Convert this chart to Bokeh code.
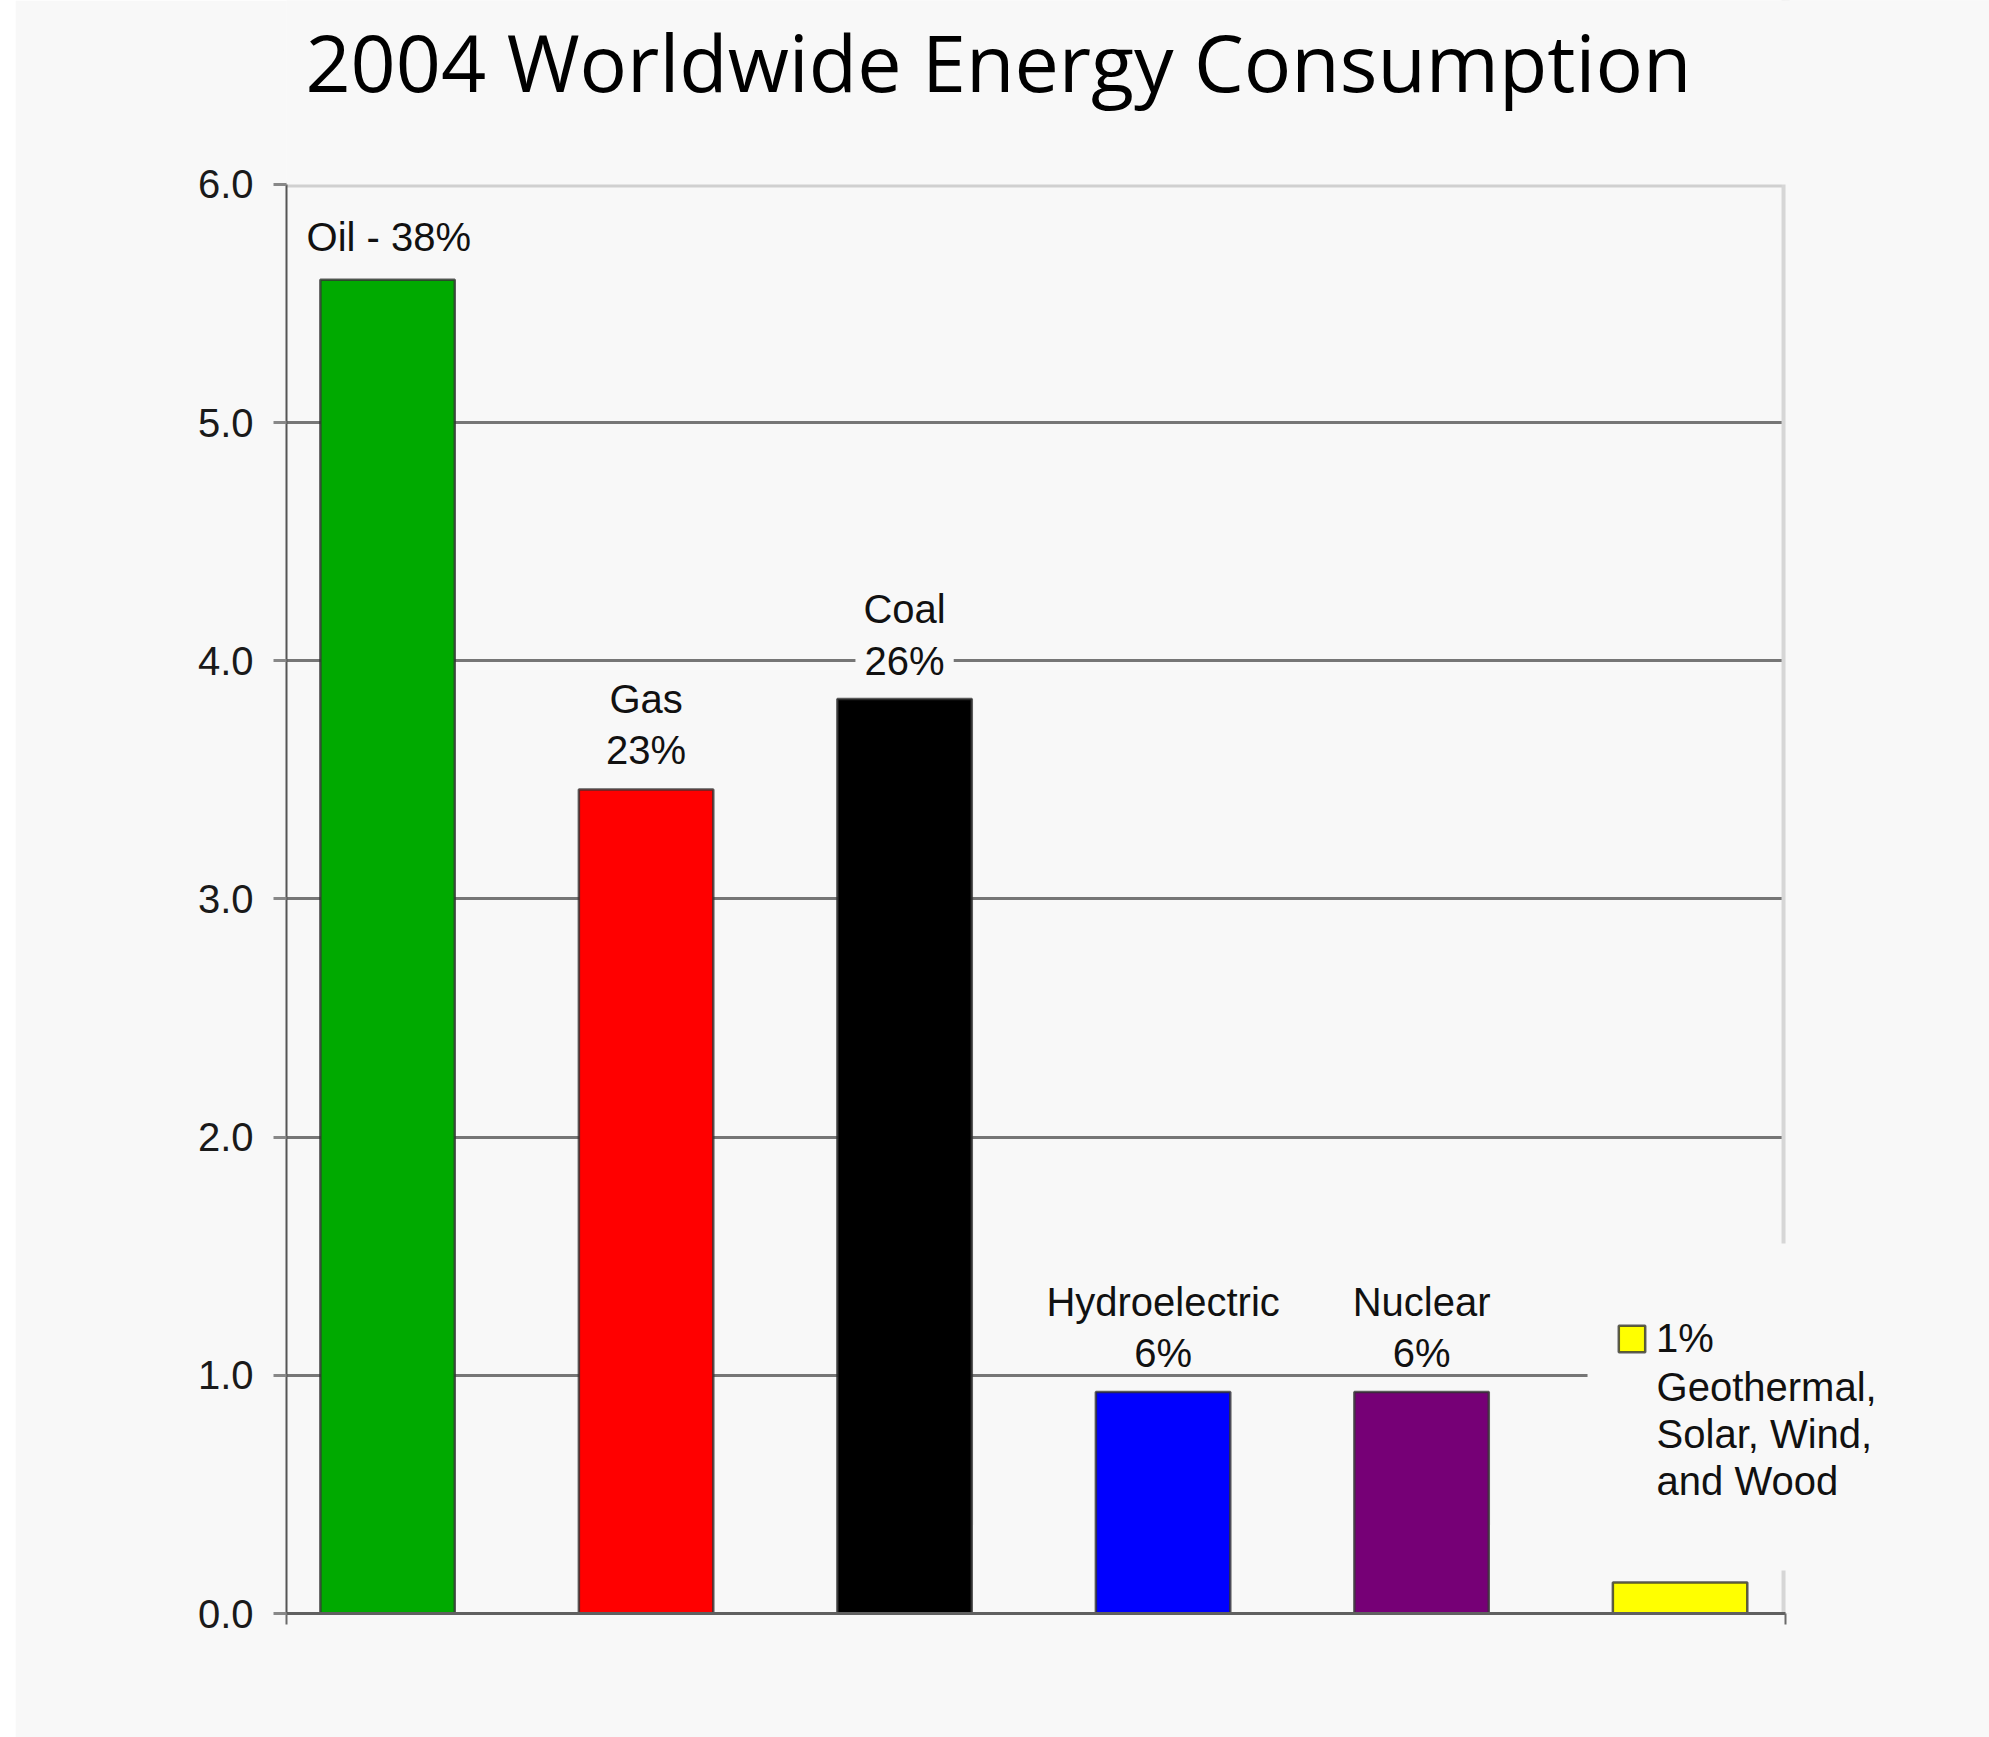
from bokeh.plotting import figure
from bokeh.models import (FixedTicker, NumeralTickFormatter, Span, BoxAnnotation,
                          Legend, LegendItem, ColumnDataSource, Spacer, Range1d, Label)
from bokeh.layouts import row
from bokeh.core.properties import value
from bokeh.embed import file_html
from bokeh.resources import INLINE

# ---- data ----
title_text = "2004 Worldwide Energy Consumption"
categories = ["Oil", "Gas", "Coal", "Hydroelectric", "Nuclear",
              "Geothermal, Solar, Wind, and Wood"]
shares = [38, 23, 26, 6, 6, 1]
values = [5.6, 3.46, 3.84, 0.93, 0.93, 0.13]
colors = ["#00aa00", "#ff0000", "#000000", "#0000ff", "#760076", "#ffff00"]
y_ticks = [0, 1, 2, 3, 4, 5, 6]
renew_lines = ["Geothermal,", "Solar, Wind,", "and Wood"]

positions = list(range(len(categories)))
BG = "#f8f8f8"
FONT = "Liberation Sans"

# plot-area extent (axes) and the wider frame that also holds title / side note
x_start, x_end = -0.391, 5.408
y_top = y_ticks[-1]
frame_x_end = 6.197
frame_y_end = 6.7725

p = figure(width=1974, height=1737, output_backend="svg", toolbar_location=None,
           x_range=Range1d(x_start, frame_x_end), y_range=Range1d(0, frame_y_end),
           min_border_left=271, min_border_right=0, min_border_top=0,
           min_border_bottom=124, background_fill_color=BG, border_fill_color=BG)
p.outline_line_color = None

src = ColumnDataSource(dict(x=positions, top=values, color=colors, cat=categories))
bars = p.vbar(x="x", top="top", width=0.52, source=src, fill_color="color",
              line_color="#333333", line_alpha=0.8, line_width=2.5)

# grid
p.xgrid.visible = False
p.ygrid.ticker = FixedTicker(ticks=y_ticks[1:-1])
p.ygrid.grid_line_color = "#767676"
p.ygrid.grid_line_width = 3

# light border at top and right of the plot area
top_line = Span(location=y_top, dimension="width", line_color="#d0d0d0",
                line_width=6, level="underlay")
right_line = Span(location=x_end, dimension="height", line_color="#d6d6d6",
                  line_width=8, level="underlay")
p.add_layout(top_line)
p.add_layout(right_line)

# background masks (under glyphs): outside the plot area, and behind the side note
p.add_layout(BoxAnnotation(left=x_end, fill_color=BG, fill_alpha=1.0,
                           line_color=None, level="underlay"))
p.add_layout(BoxAnnotation(bottom=y_top, fill_color=BG, fill_alpha=1.0,
                           line_color=None, level="underlay"))
p.add_layout(BoxAnnotation(left=4.642, right=x_end + 0.2, bottom=0.181, top=1.553,
                           fill_color=BG, fill_alpha=1.0, line_color=None,
                           level="underlay"))

# y axis
ya = p.yaxis[0]
ya.bounds = (0, y_top)
ya.ticker = FixedTicker(ticks=y_ticks)
ya.formatter = NumeralTickFormatter(format="0.0")
ya.axis_line_color = "#555555"
ya.axis_line_width = 2
ya.major_tick_line_color = "#888888"
ya.major_tick_line_width = 3
ya.major_tick_out = 13
ya.major_tick_in = 0
ya.minor_tick_line_color = None
ya.major_label_text_font = FONT
ya.major_label_text_font_size = "40px"
ya.major_label_text_color = "#1a1a1a"
ya.major_label_standoff = 20

# x axis
xa = p.xaxis[0]
xa.bounds = (x_start, x_end)
xa.ticker = FixedTicker(ticks=[x_start, x_end])
xa.axis_line_color = "#606060"
xa.axis_line_width = 3
xa.major_tick_line_color = "#6a6a6a"
xa.major_tick_line_width = 2
xa.major_tick_out = 11
xa.major_tick_in = 0
xa.minor_tick_line_color = None
xa.major_label_text_font_size = "0px"
xa.major_label_text_color = None

# title
p.add_layout(Label(x=2.363, y=6.516, text=title_text, text_align="center",
                   text_baseline="alphabetic", text_font="Open Sans",
                   text_font_size="79px", text_color="#000000"))

# labels above bars
oil_src = ColumnDataSource(dict(x=[positions[0]], y=[values[0]],
                                text=[f"{categories[0]} - {shares[0]}%"]))
p.text(x="x", y="y", text="text", source=oil_src, text_align="left",
       text_baseline="bottom", x_offset=-81, y_offset=-21,
       text_font=value(FONT), text_font_size="40px", text_color="#111111")

mid = [1, 3, 4]
mid_src = ColumnDataSource(dict(x=[positions[i] for i in mid], y=[values[i] for i in mid],
                                text=[f"{categories[i]}\n{shares[i]}%" for i in mid]))
p.text(x="x", y="y", text="text", source=mid_src, text_align="center",
       text_baseline="bottom", y_offset=-17, text_line_height=1.17,
       text_font=value(FONT), text_font_size="40px", text_color="#111111")

ci = categories.index("Coal")
coal_src = ColumnDataSource(dict(x=[positions[ci]], y=[values[ci]],
                                 text=[f"{categories[ci]}\n{shares[ci]}%"]))
p.text(x="x", y="y", text="text", source=coal_src, text_align="center",
       text_baseline="bottom", y_offset=-8, text_line_height=1.17,
       text_font=value(FONT), text_font_size="40px", text_color="#111111",
       background_fill_color=BG, padding=8)

ri = len(categories) - 1
p.add_layout(Label(x=positions[ri], y=values[ri], text="\n".join(renew_lines),
                   x_offset=-23.5, y_offset=79.5, text_align="left",
                   text_baseline="bottom", text_line_height=1.065,
                   text_font=FONT, text_font_size="40px", text_color="#111111"))

legend = Legend(items=[LegendItem(label=f"{shares[ri]}%", renderers=[bars], index=ri)],
                location=(1329, 252), glyph_width=33, glyph_height=33,
                label_standoff=8, padding=0, margin=0, spacing=0,
                border_line_color=None, background_fill_alpha=0,
                label_text_font=FONT, label_text_font_size="40px",
                label_text_color="#111111")
p.add_layout(legend)

layout = row(Spacer(width=15), p)
open("out.html", "w").write(file_html(layout, INLINE))
